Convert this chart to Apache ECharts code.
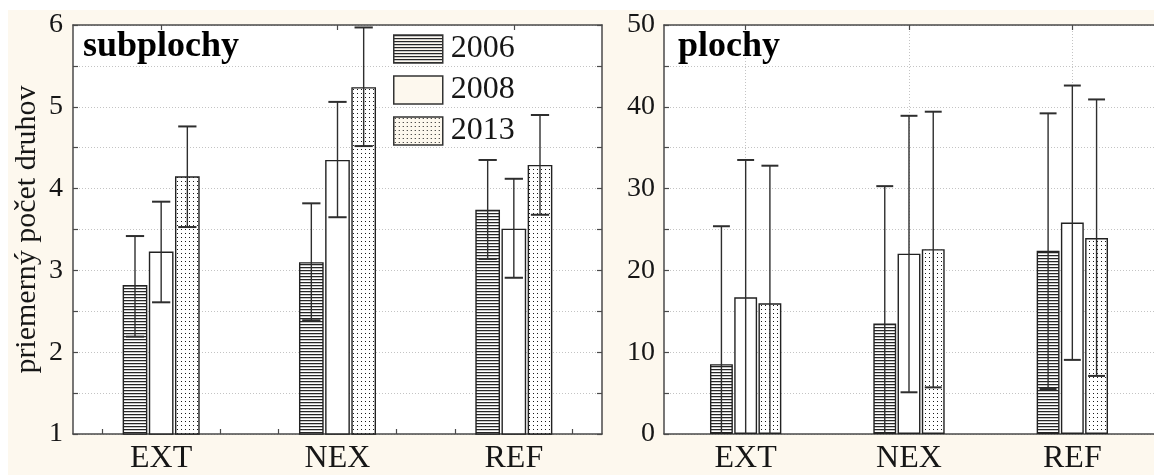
<!DOCTYPE html>
<html><head><meta charset="utf-8">
<script src="https://cdn.jsdelivr.net/npm/echarts@6/dist/echarts.min.js"></script>
<style>html,body{margin:0;padding:0;background:#fff}#c{width:1154px;height:475px}</style>
</head><body><div id="c"></div>
<script>
const categories = ['EXT', 'NEX', 'REF'];
const years = ['2006', '2008', '2013'];

// subplochy (left panel)
const subMean2006 = [2.82, 3.10, 3.74];
const subMean2008 = [3.23, 4.35, 3.51];
const subMean2013 = [4.15, 5.24, 4.29];
const subLow2006 = [2.19, 2.39, 3.14];
const subHigh2006 = [3.42, 3.82, 4.35];
const subLow2008 = [2.61, 3.65, 2.91];
const subHigh2008 = [3.84, 5.06, 4.12];
const subLow2013 = [3.53, 4.52, 3.68];
const subHigh2013 = [4.76, 5.97, 4.90];

// plochy (right panel)
const plMean2006 = [8.53, 13.5, 22.4];
const plMean2008 = [16.71, 22.05, 25.85];
const plMean2013 = [15.98, 22.6, 23.95];
const plLow2006 = [-8.3, -3.3, 5.5];
const plHigh2006 = [25.4, 30.3, 39.2];
const plLow2008 = [-0.1, 5.1, 9.06];
const plHigh2008 = [33.5, 38.9, 42.6];
const plLow2013 = [-0.8, 5.7, 7.1];
const plHigh2013 = [32.8, 39.4, 40.9];

const subTicks = [1, 2, 3, 4, 5, 6];
const plTicks = [0, 10, 20, 30, 40, 50];

const FONT = 'Liberation Serif';
const TXT = '#161616';
const AX = '#4a4a4a';
const CREAM = '#fdf8ee';
const BAR_FRAC = 0.14, GAP_FRAC = 0.06;

function makePattern(bg, kind) {
  const c = document.createElement('canvas');
  const ctx = c.getContext('2d');
  if (kind === 'h') {
    c.width = 4; c.height = 3;
    ctx.fillStyle = bg; ctx.fillRect(0, 0, 4, 3);
    ctx.fillStyle = '#262626'; ctx.fillRect(0, 0, 4, 1);
    ctx.fillStyle = '#c8c8c8'; ctx.fillRect(0, 1, 4, 1);
  } else if (kind === 'd') {
    c.width = 4; c.height = 4;
    ctx.fillStyle = bg; ctx.fillRect(0, 0, 4, 4);
    ctx.fillStyle = '#1a1a1a'; ctx.fillRect(1, 1, 1, 1);
  } else {
    c.width = 4; c.height = 4;
    ctx.fillStyle = bg; ctx.fillRect(0, 0, 4, 4);
  }
  return { image: c, repeat: 'repeat' };
}
const kinds = ['h', 'n', 'd'];
const barPatterns = kinds.map(k => makePattern('#ffffff', k));
const legendPatterns = kinds.map(k => makePattern(CREAM, k));

const subMeans = [subMean2006, subMean2008, subMean2013];
const subLows = [subLow2006, subLow2008, subLow2013];
const subHighs = [subHigh2006, subHigh2008, subHigh2013];
const plMeans = [plMean2006, plMean2008, plMean2013];
const plLows = [plLow2006, plLow2008, plLow2013];
const plHighs = [plHigh2006, plHigh2008, plHigh2013];

function errData(lows, highs) {
  const out = [];
  lows.forEach((arr, s) => arr.forEach((lo, ci) => out.push([ci, lo, highs[s][ci], s])));
  return out;
}
function errRender(params, api) {
  const ci = api.value(0), lo = api.value(1), hi = api.value(2), s = api.value(3);
  const band = api.size([1, 0])[0];
  const bw = band * BAR_FRAC;
  const p0 = api.coord([ci, lo]);
  const p1 = api.coord([ci, hi]);
  const cx = p0[0] + (s - 1) * bw * (1 + GAP_FRAC);
  const cap = bw * 0.37;
  const st = { stroke: '#2e2e2e', lineWidth: 1.4 };
  const cs = { stroke: '#2e2e2e', lineWidth: 2 };
  return {
    type: 'group',
    children: [
      { type: 'line', shape: { x1: cx, y1: p0[1], x2: cx, y2: p1[1] }, style: st },
      { type: 'line', shape: { x1: cx - cap, y1: p1[1], x2: cx + cap, y2: p1[1] }, style: cs },
      { type: 'line', shape: { x1: cx - cap, y1: p0[1], x2: cx + cap, y2: p0[1] }, style: cs }
    ]
  };
}

const axisLine = { show: true, lineStyle: { color: AX, width: 1.5 } };
const splitDot = { show: true, lineStyle: { color: '#c4c4c4', width: 1, type: [1, 2] } };
const tickIn = { show: true, inside: true, length: 5, lineStyle: { color: AX, width: 1.2 } };
const minorSlots = Array.from({ length: categories.length * 3 }, () => '');
const gridSlots = Array.from({ length: categories.length * 2 + 1 }, () => '');

function yLabel(ticks, margin) {
  return {
    show: true, margin: margin, fontFamily: FONT, fontSize: 28, color: TXT,
    formatter: v => (ticks.indexOf(v) >= 0 ? String(v) : '')
  };
}

function bars(means, xi, yi) {
  return means.map((m, s) => ({
    type: 'bar', name: years[s], xAxisIndex: xi, yAxisIndex: yi, data: m,
    barWidth: (BAR_FRAC * 100) + '%', barGap: (GAP_FRAC * 100) + '%', z: 2,
    itemStyle: { color: barPatterns[s], borderColor: '#222', borderWidth: 1.4 },
    emphasis: { disabled: true }, animation: false
  }));
}

const chart = echarts.init(document.getElementById('c'), null, { renderer: 'canvas' });
chart.setOption({
  animation: false,
  backgroundColor: '#ffffff',
  graphic: [
    { type: 'rect', z: -10, silent: true, shape: { x: 8, y: 10, width: 1146, height: 465 }, style: { fill: CREAM } },
    { type: 'text', z: 100, left: 83, top: 29, style: { text: 'subplochy', font: 'bold 36px "Liberation Serif"', fill: '#000' } },
    { type: 'text', z: 100, left: 678, top: 29, style: { text: 'plochy', font: 'bold 36px "Liberation Serif"', fill: '#000' } }
  ],
  grid: [
    { left: 73, top: 25, width: 529, height: 412, show: true, backgroundColor: '#fff', borderWidth: 0 },
    { left: 664, top: 25, width: 497, height: 412, show: true, backgroundColor: '#fff', borderWidth: 0 }
  ],
  legend: {
    left: 388, top: 28, orient: 'vertical', itemWidth: 49, itemHeight: 28, itemGap: 9,
    selectedMode: false,
    textStyle: { fontFamily: FONT, fontSize: 32, color: TXT, padding: [0, 0, 0, 3] },
    data: years.map((y, i) => ({ name: y, icon: 'rect', itemStyle: { color: legendPatterns[i], borderColor: '#333', borderWidth: 1.5 } }))
  },
  xAxis: [
    { gridIndex: 0, type: 'category', data: categories, position: 'bottom', axisLine: axisLine,
      axisTick: { show: false }, splitLine: { show: false },
      axisLabel: { fontFamily: FONT, fontSize: 32, color: TXT, margin: 9 } },
    { gridIndex: 0, type: 'category', data: minorSlots, position: 'bottom', axisLine: { show: false },
      axisTick: Object.assign({ alignWithLabel: true }, tickIn), axisLabel: { show: false }, splitLine: { show: false } },
    { gridIndex: 0, type: 'category', data: categories, position: 'top', axisLine: axisLine,
      axisTick: Object.assign({ alignWithLabel: true }, tickIn), axisLabel: { show: false }, splitLine: { show: false } },
    { gridIndex: 1, type: 'category', data: categories, position: 'bottom', axisLine: axisLine,
      axisTick: Object.assign({ alignWithLabel: true }, tickIn), splitLine: { show: false },
      axisLabel: { fontFamily: FONT, fontSize: 32, color: TXT, margin: 9 } },
    { gridIndex: 1, type: 'category', data: categories, position: 'top', axisLine: axisLine,
      axisTick: Object.assign({ alignWithLabel: true }, tickIn), axisLabel: { show: false }, splitLine: { show: false } },
    { gridIndex: 1, type: 'category', data: gridSlots, boundaryGap: false, position: 'top', show: true,
      axisLine: { show: false }, axisTick: { show: false }, axisLabel: { show: false },
      splitLine: Object.assign({}, splitDot, { interval: i => i % 2 === 1 }) }
  ],
  yAxis: [
    { gridIndex: 0, type: 'value', min: 1, max: 6, interval: 0.5, position: 'left',
      axisLine: axisLine, axisTick: tickIn, splitLine: splitDot, axisLabel: yLabel(subTicks, 10),
      name: 'priemerný počet druhov', nameLocation: 'middle', nameGap: 31,
      nameTextStyle: { fontFamily: FONT, fontSize: 30, color: TXT } },
    { gridIndex: 0, type: 'value', min: 1, max: 6, interval: 0.5, position: 'right',
      axisLine: axisLine, axisTick: tickIn, splitLine: { show: false }, axisLabel: { show: false } },
    { gridIndex: 1, type: 'value', min: 0, max: 50, interval: 5, position: 'left',
      axisLine: axisLine, axisTick: tickIn, splitLine: splitDot, axisLabel: yLabel(plTicks, 9) }
  ],
  series: [
    ...bars(subMeans, 0, 0),
    ...bars(plMeans, 3, 2),
    { type: 'custom', name: 'err-sub', xAxisIndex: 0, yAxisIndex: 0, z: 5, clip: true,
      data: errData(subLows, subHighs), renderItem: errRender, encode: { x: 0, y: [1, 2] }, silent: true },
    { type: 'custom', name: 'err-pl', xAxisIndex: 3, yAxisIndex: 2, z: 5, clip: true,
      data: errData(plLows, plHighs), renderItem: errRender, encode: { x: 0, y: [1, 2] }, silent: true }
  ]
});
</script></body></html>
